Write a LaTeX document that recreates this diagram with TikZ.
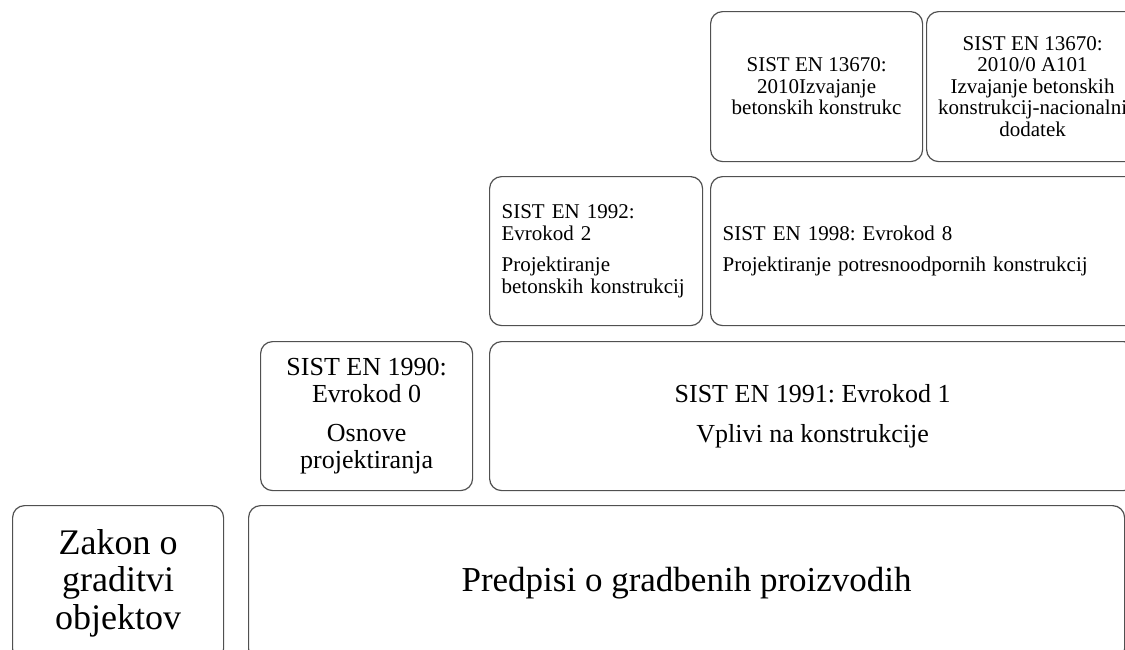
\documentclass[tikz,border=0pt]{standalone}
\usepackage{fontspec}
\setmainfont{Liberation Serif}
\definecolor{boxline}{HTML}{505050}
\frenchspacing
\begin{document}
\begin{tikzpicture}[x=1pt,y=-1pt,
  box/.style={draw=boxline, line width=1.2pt, rounded corners=12pt, fill=white,
    inner sep=0pt, anchor=north west, align=center, text=black},
  big/.style={font=\fontsize{36}{37.5}\selectfont},
  mid/.style={font=\fontsize{26}{27}\selectfont},
  small/.style={font=\fontsize{21}{21.5}\selectfont},
]
\useasboundingbox (0,0) rectangle (1125,649);
\clip (0,0) rectangle (1125,649);
% bottom row
\node[box, big, minimum width=211pt, minimum height=155pt] (zakon) at (12,505)
  {Zakon o\\graditvi\\objektov};
\node[box, font=\fontsize{35}{37}\selectfont, minimum width=876pt, minimum height=155pt] (predpisi) at (248,505)
  {Predpisi o gradbenih proizvodih};
% second row
\node[box, mid, minimum width=212pt, minimum height=149pt] (en1990) at (260,341)
  {SIST EN 1990:\\Evrokod 0\\[12pt]Osnove\\projektiranja};
\node[box, mid, minimum width=646pt, minimum height=149pt] (en1991) at (489,341)
  {SIST EN 1991: Evrokod 1\\[13pt]Vplivi na konstrukcije};
% third row
\node[box, small, align=left, text width=189pt, inner xsep=12pt, minimum height=149pt] (en1992) at (489,176)
  {SIST EN 1992:\\Evrokod 2\\[10pt]Projektiranje\\betonskih konstrukcij};
\node[box, small, align=left, text width=411pt, inner xsep=12pt, minimum height=149pt] (en1998) at (710,176)
  {SIST EN 1998: Evrokod 8\\[9pt]Projektiranje potresnoodpornih konstrukcij};
% top row
\node[box, small, minimum width=212pt, minimum height=150pt] (en13670) at (710,11)
  {SIST EN 13670:\\2010Izvajanje\\betonskih konstrukc};
\node[box, small, minimum width=212pt, minimum height=150pt] (en13670a) at (926,11)
  {SIST EN 13670:\\2010/0 A101\\Izvajanje betonskih\\konstrukcij-nacionalni\\dodatek};
\end{tikzpicture}
\end{document}
